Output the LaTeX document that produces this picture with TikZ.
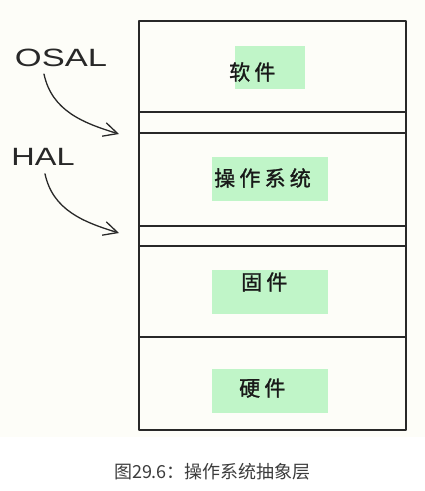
\documentclass[tikz,border=0pt]{standalone}
\usepackage{fontspec}
\setmainfont{Liberation Sans}
\newfontfamily\cjk{Noto Sans CJK SC}
\newfontfamily\cjkwide[LetterSpace=20,FakeBold=1.3]{Noto Sans CJK SC}
\usepackage{xcolor}
\usetikzlibrary{arrows.meta,positioning,calc}

\definecolor{paper}{RGB}{253,253,248}
\definecolor{mint}{RGB}{192,245,200}
\definecolor{edge}{RGB}{40,40,40}
\definecolor{captiongray}{RGB}{60,60,60}

\tikzset{
  layer/.style={draw=edge,line width=2pt,rectangle,anchor=north west,
    minimum width=267pt,inner sep=0pt,outer sep=0pt},
  patch/.style={fill=mint,rectangle,inner sep=0pt,anchor=north west},
  tag/.style={font=\cjkwide\fontsize{21}{21}\selectfont,text=black!90,inner sep=0pt,anchor=west},
  hand/.style={font=\fontsize{25}{25}\selectfont,text=edge,inner sep=0pt},
  flow/.style={draw=edge,line width=1.3pt,-{Straight Barb[length=14pt,width=14pt,line width=1.3pt]}}
}

\begin{document}
\begin{tikzpicture}[line cap=round,line join=round,x=1pt,y=-1pt]
		\useasboundingbox (0,0) rectangle (425,491);
		\fill[paper] (0,0) rectangle (425,437);
		% layers
		\node[layer,minimum height=91pt] (app) at (139,21) {};
		\node[layer,minimum height=21pt] (osalgap) at (139,112) {};
		\node[layer,minimum height=93pt] (os) at (139,133) {};
		\node[layer,minimum height=20pt] (halgap) at (139,226) {};
		\node[layer,minimum height=91pt] (fw) at (139,246) {};
		\node[layer,minimum height=93pt] (hw) at (139,337) {};
		% green patches
		\node[patch,minimum width=70pt,minimum height=43pt] (appbg) at (235,46) {};
		\node[patch,minimum width=116pt,minimum height=44pt] (osbg) at (212,157) {};
		\node[patch,minimum width=116pt,minimum height=44pt] (fwbg) at (212,270) {};
		\node[patch,minimum width=116pt,minimum height=44pt] (hwbg) at (212,369) {};
		% labels
		\node[tag] (applbl) at (229,72) {软件};
		\node[tag] (oslbl) at (214,178) {操作系统};
		\node[tag] (fwlbl) at (241,282) {固件};
		\node[tag] (hwlbl) at (239,388) {硬件};
		% side notes
		\node[hand,xscale=1.38] (osal) at (61,58) {OSAL};
		\node[hand,xscale=1.3] (hal) at (43,157) {HAL};
		\coordinate (osalto) at (119,134);
		\coordinate (halto) at (119,233);
		\draw[flow] ([xshift=-17pt,yshift=-7pt]osal.south) to[out=-78,in=163] (osalto);
		\draw[flow] ([xshift=2pt,yshift=-8pt]hal.south) to[out=-78,in=163] (halto);
		% caption
		\node[font=\cjk\fontsize{18}{18}\selectfont,text=captiongray] (caption) at (212.5,472) {图29.6：操作系统抽象层};
	\end{tikzpicture}
\end{document}
